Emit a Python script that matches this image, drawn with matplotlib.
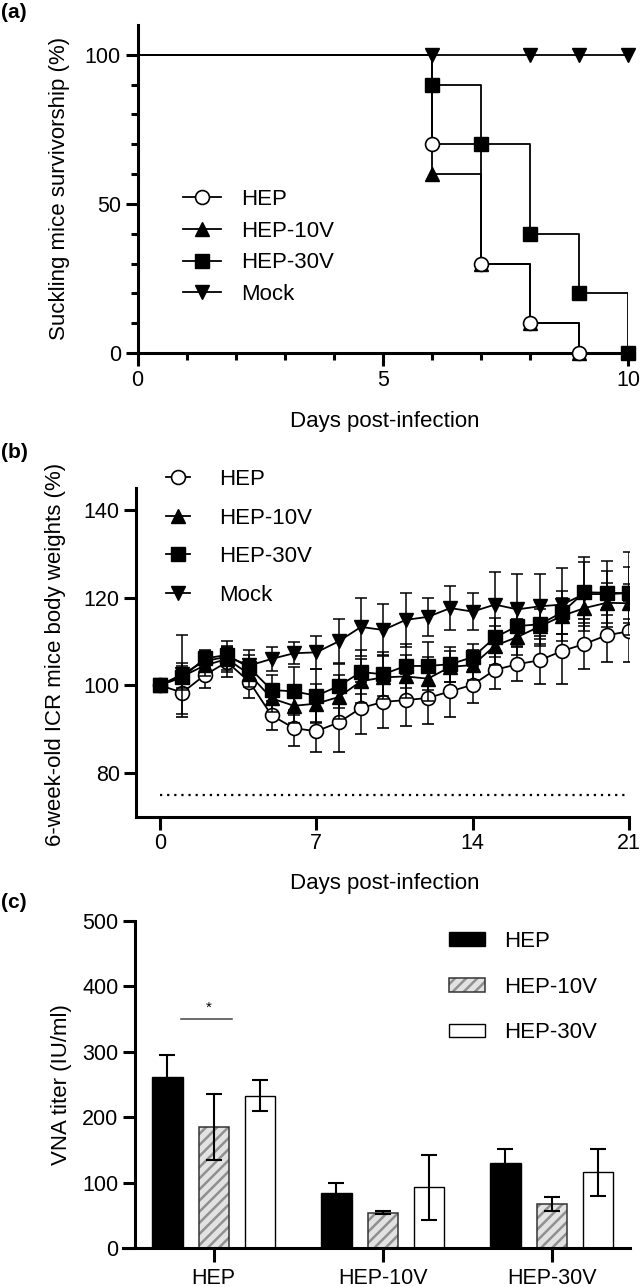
import matplotlib
matplotlib.use("Agg")
import matplotlib.pyplot as plt
from matplotlib.lines import Line2D
from matplotlib.patches import Patch
import numpy as np

plt.rcParams['font.family'] = ['Liberation Sans', 'DejaVu Sans']
plt.rcParams['hatch.linewidth'] = 1.8

# ---------------- data (a) survival ----------------
surv_labels = ["HEP", "HEP-10V", "HEP-30V", "Mock"]
hep_t = [0, 6, 7, 8, 9]
hep_s = [100, 70, 30, 10, 0]
hep10_t = [0, 6, 7, 8, 9]
hep10_s = [100, 60, 30, 10, 0]
hep30_t = [0, 6, 7, 8, 9, 10]
hep30_s = [100, 90, 70, 40, 20, 0]
mock_t = [0, 6, 8, 9, 10]
mock_s = [100, 100, 100, 100, 100]

# ---------------- data (b) body weights ----------------
days = list(range(22))
w_hep = [100, 98.3, 102.3, 105.3, 100.8, 93.1, 90.2, 89.5, 91.5, 94.8, 96.2, 96.6,
         97.1, 98.6, 100.1, 103.5, 104.8, 105.7, 107.8, 109.4, 111.4, 112.3]
w_hep_sd = [0, 5.6, 2.9, 3.4, 3.8, 3.4, 4.1, 4.8, 6.8, 6.0, 6.0, 5.9,
            5.9, 5.9, 4.2, 4.4, 3.9, 5.5, 7.5, 5.7, 6.2, 6.9]
w_hep10 = [100, 102.0, 104.5, 106.0, 102.5, 97.0, 95.3, 95.8, 97.3, 100.9, 101.8, 102.0,
           101.5, 104.2, 104.6, 109.0, 111.0, 113.4, 115.8, 117.6, 118.8, 118.7]
w_hep10_sd = [0, 3.0, 2.5, 2.5, 3.0, 3.0, 4.0, 4.5, 5.0, 5.0, 5.0, 5.0,
              5.0, 3.5, 3.5, 4.5, 4.0, 4.0, 4.0, 4.0, 4.5, 4.5]
w_hep30 = [100, 101.8, 106.1, 106.9, 104.0, 98.9, 98.6, 97.6, 99.8, 103.0, 102.5, 104.4,
           104.4, 104.8, 106.4, 110.9, 113.5, 113.9, 116.6, 121.2, 121.1, 121.0]
w_hep30_sd = [0, 2.5, 2.0, 2.0, 3.0, 3.5, 5.5, 6.0, 5.0, 5.0, 5.0, 5.0,
              5.5, 4.0, 3.0, 4.5, 4.5, 5.0, 5.0, 7.0, 5.0, 6.0]
w_mock = [100, 102.5, 105.5, 106.5, 104.5, 106.0, 107.3, 107.5, 110.0, 113.3, 112.6, 114.9,
          115.6, 117.6, 116.8, 118.4, 117.3, 118.0, 118.4, 120.8, 120.8, 121.0]
w_mock_sd = [0, 9.0, 2.3, 3.5, 3.5, 2.7, 2.5, 3.7, 5.0, 6.7, 6.0, 6.1,
             4.4, 5.0, 4.3, 7.5, 8.0, 7.4, 8.3, 8.5, 7.5, 9.5]
threshold = 75

# ---------------- data (c) VNA titer ----------------
groups = ["HEP", "HEP-10V", "HEP-30V"]
vna_hep = [261, 85, 130]
vna_hep_err = [34, 15, 21.5]
vna_hep10 = [185, 54.5, 68]
vna_hep10_err = [50, 2, 11]
vna_hep30 = [233, 93, 116]
vna_hep30_err = [23.5, 50, 35.5]
sig_y = 351
sig_text = "*"

W, H = 642, 1287
fig = plt.figure(figsize=(W / 100, H / 100), dpi=100)

SP_LW = 2.2
TICK_FS = 15.5
LEG_FS = 16
LAB_FS = 16

def style_axes(ax):
    for s in ['top', 'right']:
        ax.spines[s].set_visible(False)
    for s in ['left', 'bottom']:
        ax.spines[s].set_linewidth(SP_LW)
    ax.tick_params(axis='both', which='major', length=9, width=SP_LW,
                   labelsize=TICK_FS, pad=3)
    ax.tick_params(axis='both', which='minor', length=5, width=SP_LW)

def fx(px):
    return px / W

def fy(py):
    return 1 - py / H

# ================= Panel (a) =================
axA = fig.add_axes([fx(137.5), fy(353), fx(628) - fx(137.5), fy(25) - fy(353)])
style_axes(axA)
axA.set_xlim(0, 10)
axA.set_ylim(0, 110)
lw = 1.3
ms = 10
axA.plot(hep10_t, hep10_s, drawstyle='steps-post', color='black', lw=lw, zorder=3)
axA.plot(hep10_t[1:], hep10_s[1:], ls='none', marker='^', ms=ms, color='black',
         clip_on=False, zorder=4)
axA.plot(hep_t, hep_s, drawstyle='steps-post', color='black', lw=lw, zorder=5)
axA.plot(hep_t[1:], hep_s[1:], ls='none', marker='o', ms=ms, mfc='white', mec='black',
         mew=1.2, clip_on=False, zorder=6)
axA.plot(hep30_t, hep30_s, drawstyle='steps-post', color='black', lw=lw, zorder=5)
axA.plot(hep30_t[1:], hep30_s[1:], ls='none', marker='s', ms=ms, color='black',
         clip_on=False, zorder=6)
axA.plot(mock_t, mock_s, drawstyle='steps-post', color='black', lw=lw, zorder=5)
axA.plot(mock_t[1:], mock_s[1:], ls='none', marker='v', ms=ms, color='black',
         clip_on=False, zorder=6)
axA.set_xticks([0, 5, 10])
axA.set_xticks([1, 2, 3, 4, 6, 7, 8, 9], minor=True)
axA.set_yticks([0, 50, 100])
axA.set_yticks([10, 20, 30, 40, 60, 70, 80, 90], minor=True)

hA = [Line2D([], [], color='black', lw=lw, marker='o', ms=ms, mfc='white', mec='black', mew=1.2),
      Line2D([], [], color='black', lw=lw, marker='^', ms=ms),
      Line2D([], [], color='black', lw=lw, marker='s', ms=ms),
      Line2D([], [], color='black', lw=lw, marker='v', ms=ms)]
axA.legend(hA, surv_labels, loc='upper left', bbox_to_anchor=(fx(183), fy(189)),
           bbox_transform=fig.transFigure, frameon=False, fontsize=LEG_FS,
           handlelength=1.7, handletextpad=0.9, labelspacing=0.48, borderpad=0,
           borderaxespad=0)

fig.text(fx(385), fy(421), "Days post-infection", ha='center', va='center', fontsize=LAB_FS)
fig.text(fx(60), fy(188), "Suckling mice survivorship (%)", ha='center', va='center',
         rotation=90, fontsize=LAB_FS)
fig.text(fx(1), fy(12), "(a)", ha='left', va='center', fontsize=15, fontweight='bold')

# ================= Panel (b) =================
axB = fig.add_axes([fx(136.3), fy(816.7), fx(629) - fx(136.3), fy(488) - fy(816.7)])
style_axes(axB)
axB.set_xlim(-1.06, 21)
axB.set_ylim(70, 145)
ebkw = dict(capsize=4.3, elinewidth=1.1, capthick=1.1, lw=1.3, color='black')
msb = 10
axB.errorbar(days, w_hep, yerr=w_hep_sd, marker='o', ms=msb, mfc='white', mec='black',
             mew=1.2, zorder=3, **ebkw)
axB.errorbar(days, w_hep10, yerr=w_hep10_sd, marker='^', ms=msb, zorder=4, **ebkw)
axB.errorbar(days, w_mock, yerr=w_mock_sd, marker='v', ms=msb, zorder=5, **ebkw)
axB.errorbar(days, w_hep30, yerr=w_hep30_sd, marker='s', ms=msb - 0.5, zorder=6, **ebkw)
axB.plot([0, 21], [threshold, threshold], ls=(0, (1, 2.2)), color='black', lw=1.6)
axB.set_xticks([0, 7, 14, 21])
axB.set_yticks([80, 100, 120, 140])

hB = [Line2D([], [], color='black', lw=lw, marker='o', ms=msb, mfc='white', mec='black', mew=1.2),
      Line2D([], [], color='black', lw=lw, marker='^', ms=msb),
      Line2D([], [], color='black', lw=lw, marker='s', ms=msb - 0.5),
      Line2D([], [], color='black', lw=lw, marker='v', ms=msb)]
axB.legend(hB, surv_labels, loc='upper left', bbox_to_anchor=(fx(166), fy(469)),
           bbox_transform=fig.transFigure, frameon=False, fontsize=LEG_FS,
           handlelength=1.1, handletextpad=1.3, labelspacing=0.79, borderpad=0,
           borderaxespad=0)

fig.text(fx(385), fy(883), "Days post-infection", ha='center', va='center', fontsize=LAB_FS)
fig.text(fx(56), fy(654), "6-week-old ICR mice body weights (%)", ha='center', va='center',
         rotation=90, fontsize=LAB_FS)
fig.text(fx(1), fy(453), "(b)", ha='left', va='center', fontsize=15, fontweight='bold')

# ================= Panel (c) =================
axC = fig.add_axes([fx(122.8), fy(1248.3), fx(630.4) - fx(122.8), fy(921) - fy(1248.3)])
style_axes(axC)
axC.set_xlim(-0.538, 2.465)
axC.set_ylim(0, 500)
axC.spines['left'].set_position(('data', -0.465))
axC.spines['left'].set_bounds(0, 500)
x = np.arange(len(groups))
bw = 0.179
off = 0.274
ekw = dict(ecolor='black', elinewidth=1.5, capsize=6, capthick=1.5)
axC.bar(x - off, vna_hep, bw, color='black', edgecolor='black', lw=1, zorder=2)
axC.errorbar(x - off, vna_hep, yerr=vna_hep_err, fmt='none', zorder=3, **ekw)
light = '#e2e2e2'
hatch_col = '#909090'
axC.bar(x, vna_hep10, bw, color=light, edgecolor=hatch_col, hatch='///', lw=0, zorder=2)
axC.bar(x, vna_hep10, bw, fill=False, edgecolor='#333333', lw=1.1, zorder=2.5)
axC.errorbar(x, vna_hep10, yerr=vna_hep10_err, fmt='none', zorder=3, **ekw)
axC.bar(x + off, vna_hep30, bw, color='white', edgecolor='black', lw=1, zorder=2)
axC.errorbar(x + off, vna_hep30, yerr=vna_hep30_err, fmt='none', zorder=3, **ekw)
axC.set_xticks(x)
axC.set_xticklabels(groups)
axC.set_yticks([0, 100, 200, 300, 400, 500])
axC.tick_params(axis='x', length=10, pad=4)

axC.plot([-0.192, 0.107], [sig_y, sig_y], color='#444444', lw=1.1)
axC.text(-0.027, sig_y + 16, sig_text, ha='center', va='center', fontsize=11)

hC = [Patch(facecolor='black', edgecolor='black'),
      (Patch(facecolor=light, edgecolor=hatch_col, hatch='///', lw=0),
       Patch(fill=False, edgecolor='#333333', lw=1.1)),
      Patch(facecolor='white', edgecolor='black', lw=1)]
axC.legend(hC, groups, loc='upper left', bbox_to_anchor=(fx(449), fy(931)),
           bbox_transform=fig.transFigure, frameon=False, fontsize=LEG_FS,
           handlelength=1.6, handleheight=0.55, handletextpad=0.9, labelspacing=1.11,
           borderpad=0, borderaxespad=0)

fig.text(fx(61), fy(1085), "VNA titer (IU/ml)", ha='center', va='center',
         rotation=90, fontsize=LAB_FS)
fig.text(fx(1), fy(902), "(c)", ha='left', va='center', fontsize=15, fontweight='bold')

fig.savefig("out.png", dpi=100)
